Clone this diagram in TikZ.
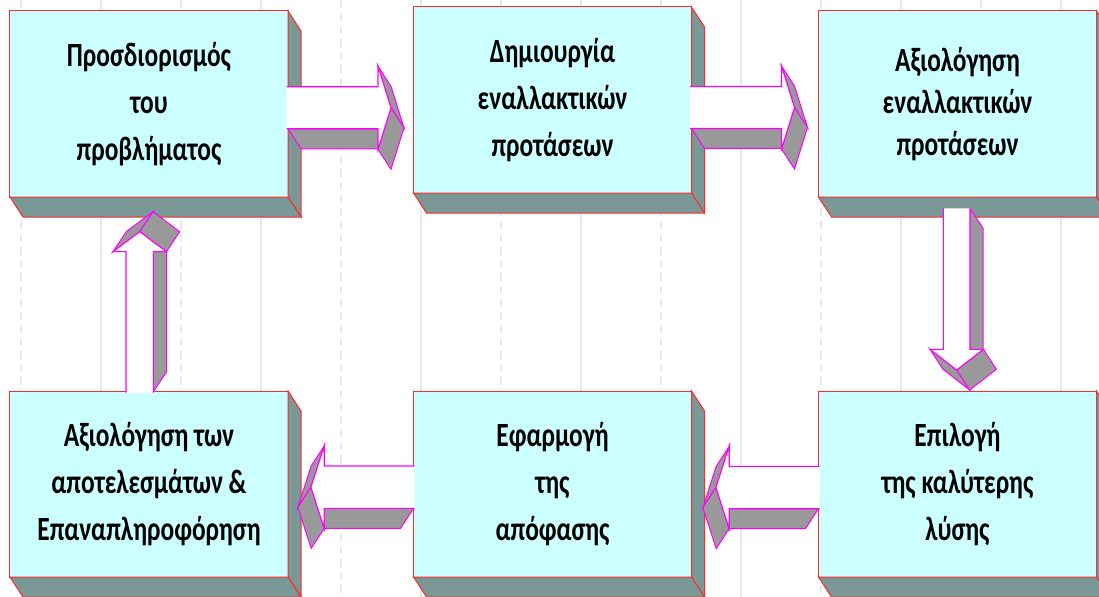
\documentclass[tikz,border=0pt]{standalone}
\usepackage{fontspec}
\usetikzlibrary{calc}
\newfontfamily\boxfont{Carlito}[FakeStretch=0.75]
\definecolor{boxcyan}{HTML}{CCFFFF}
\definecolor{boxside}{HTML}{7A9996}
\definecolor{boxred}{HTML}{FF2A2A}
\definecolor{arrgray}{HTML}{999999}
\definecolor{arrmag}{HTML}{FF00FF}
\definecolor{gridgray}{HTML}{E8E8E8}
\tikzset{
  box/.style={draw=boxred, line width=1bp, fill=boxcyan, minimum width=278bp, minimum height=186bp,
    inner sep=0pt, outer sep=0pt, align=center,
    font=\boxfont\bfseries\fontsize{34}{47}\selectfont},
  tightbox/.style={box, font=\boxfont\bfseries\fontsize{34}{42}\selectfont},
  side/.style={draw=boxred, line width=1bp, fill=boxside, line join=miter},
  aface/.style={draw=arrmag, line width=1bp, fill=arrgray},
  aedge/.style={draw=arrmag, line width=1.1bp},
  gridsolid/.style={draw=gridgray, line width=1.6bp},
  griddash/.style={draw=gridgray, line width=1.6bp, dash pattern=on 8bp off 5bp},
}
\newcommand\sidefaces[1]{%
  \draw[side] (#1.north east) -- ++(13,20) -- ($(#1.south east)+(13,20)$) -- (#1.south east) -- cycle;
  \draw[side] (#1.south west) -- ($(#1.south west)+(13,20)$) -- ($(#1.south east)+(13,20)$) -- (#1.south east) -- cycle;}
\newcommand\rightblock[1]{%
  \begin{scope}[shift={(#1)}]
    \draw[aface] (0,21) -- (90,21) -- (103,41) -- (13,41) -- cycle;
    \draw[aface] (90,-41.5) -- (103,0) -- (116,20) -- (103,-21.5) -- cycle;
    \draw[aface] (103,0) -- (90,41.5) -- (103,61.5) -- (116,20) -- cycle;
    \fill[white] (-1.5,-21) -- (90,-21) -- (90,-41.5) -- (103,0) -- (90,41.5) -- (90,21) -- (-1.5,21) -- cycle;
    \draw[aedge] (-1.5,-21) -- (90,-21) -- (90,-41.5) -- (103,0) -- (90,41.5) -- (90,21) -- (-1.5,21);
  \end{scope}}
\newcommand\leftblock[1]{%
  \begin{scope}[shift={(#1)}]
    \draw[aface] (0,21.2) -- (-89.3,21.2) -- (-102.3,41.2) -- (-13,41.2) -- cycle;
    \draw[aface] (-89.3,-41.2) -- (-102.6,0) -- (-115.6,20) -- (-102.3,-21.2) -- cycle;
    \draw[aface] (-102.6,0) -- (-89.3,41.2) -- (-102.3,61.2) -- (-115.6,20) -- cycle;
    \fill[white] (1,-21.2) -- (-89.3,-21.2) -- (-89.3,-41.2) -- (-102.6,0) -- (-89.3,41.2) -- (-89.3,21.2) -- (1,21.2) -- cycle;
    \draw[aedge] (1,-21.2) -- (-89.3,-21.2) -- (-89.3,-41.2) -- (-102.6,0) -- (-89.3,41.2) -- (-89.3,21.2) -- (1,21.2);
  \end{scope}}
\newcommand\downblock[1]{%
  \begin{scope}[shift={(#1)}]
    \draw[aface] (13.3,0) -- (26.3,20) -- (26.3,161) -- (13.3,141) -- cycle;
    \draw[aface] (-26.7,141) -- (0,161.7) -- (13,181.7) -- (-13.7,161) -- cycle;
    \draw[aface] (0,161.7) -- (26.7,141) -- (39.7,161) -- (13,181.7) -- cycle;
    \fill[white] (-13.3,0) -- (13.3,0) -- (13.3,141) -- (26.7,141) -- (0,161.7) -- (-26.7,141) -- (-13.3,141) -- cycle;
    \draw[aedge] (-13.3,0) -- (-13.3,141) -- (-26.7,141) -- (0,161.7) -- (26.7,141) -- (13.3,141) -- (13.3,0);
  \end{scope}}
\newcommand\upblock[1]{%
  \begin{scope}[shift={(#1)}]
    \draw[aface] (13.7,-140) -- (13.7,0) -- (27,-20) -- (27,-160) -- cycle;
    \draw[aface] (-26.7,-140) -- (0,-160) -- (13.3,-180) -- (-13.4,-160) -- cycle;
    \draw[aface] (0,-160) -- (26.7,-140) -- (40,-160) -- (13.3,-180) -- cycle;
    \fill[white] (-13.7,1) -- (-13.7,-140) -- (-26.7,-140) -- (0,-160) -- (26.7,-140) -- (13.7,-140) -- (13.7,1) -- cycle;
    \draw[aedge] (-13.7,1) -- (-13.7,-140) -- (-26.7,-140) -- (0,-160) -- (26.7,-140) -- (13.7,-140) -- (13.7,1);
  \end{scope}}
\begin{document}
\begin{tikzpicture}[x=1bp, y=-1bp]
  \fill[white] (0,0) rectangle (1099,597);
  \useasboundingbox (0,0) rectangle (1099,597);
  \foreach \k in {0,...,13} {
    \pgfmathsetmacro\xx{21+80*\k}
    \ifodd\k \draw[gridsolid] (\xx,0) -- (\xx,597); \else \draw[griddash] (\xx,0) -- (\xx,597); \fi
  }
  % boxes
  \node[box] (b1) at (149,104) {Προσδιορισμός\\του\\προβλήματος};
  \node[box] (b2) at (552.5,100) {Δημιουργία\\εναλλακτικών\\προτάσεων};
  \node[tightbox] (b3) at (957.5,104) {\raisebox{0pt}[0pt][0pt]{}Αξιολόγηση\\εναλλακτικών\\προτάσεων};
  \node[box] (b4) at (957.5,484) {Επιλογή\\της καλύτερης\\λύσης};
  \node[box] (b5) at (552.5,484) {Εφαρμογή\\της\\απόφασης};
  \node[box] (b6) at (149,484) {Αξιολόγηση των\\αποτελεσμάτων \&\\Επαναπληροφόρηση};
  \foreach \b in {b1,b2,b3,b4,b5,b6} {\sidefaces{\b}}
  % block arrows
  \rightblock{$(b1.east)+(0,3.8)$}
  \rightblock{$(b2.east)+(0,7.5)$}
  \downblock{$(b3.south)+(-0.8,11.3)$}
  \leftblock{$(b4.west)+(0,3.5)$}
  \leftblock{$(b5.west)+(0,3.2)$}
  \upblock{$(b6.north)+(-9.3,0.7)$}
\end{tikzpicture}
\end{document}
